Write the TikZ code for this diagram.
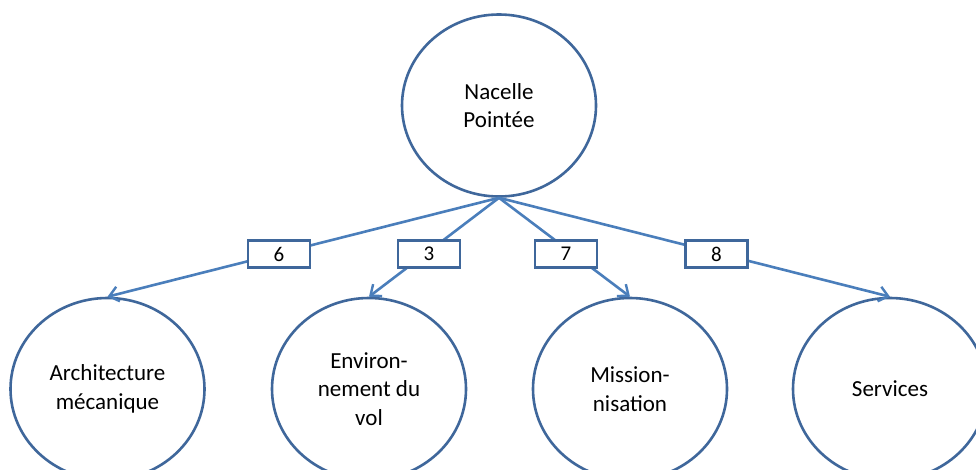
\documentclass[tikz,border=0pt]{standalone}
\usepackage{fontspec}
\setmainfont{Carlito}
\usetikzlibrary{shapes.geometric,arrows.meta}
\definecolor{rimblue}{HTML}{3F679B}
\definecolor{linkblue}{HTML}{4A7EBB}
\tikzset{
  topic/.style={ellipse, draw=rimblue, line width=2.6pt, fill=white,
    minimum width=194pt, minimum height=182pt, inner sep=0pt,
    align=center, font=\fontsize{23}{28.5}\selectfont},
  weight/.style={rectangle, draw=rimblue, line width=2.2pt, fill=white,
    minimum width=62pt, minimum height=27pt, inner sep=0pt,
    font=\fontsize{21}{24}\selectfont},
  link/.style={draw=linkblue, line width=2.6pt,
    -{Straight Barb[length=9pt,width=15pt,line width=2.4pt]}},
}
\begin{document}
\begin{tikzpicture}[x=1pt,y=-1pt]
  \useasboundingbox (0,0) rectangle (976,470);
  \clip (0,0) rectangle (976,470);
  \fill[white] (0,0) rectangle (976,470);

  % root and its four sub-themes
  \node[topic] (root) at (499,105.5) {Nacelle\\Pointée};
  \node[topic] (arch) at (107.5,389) {Architecture\\mécanique};
  \node[topic] (env)  at (369,389)   {Environ-\\nement du\\vol};
  \node[topic] (miss) at (630,389)   {Mission-\\nisation};
  \node[topic] (serv) at (890,389)   {Services};

  % weighted links
  \draw[link] (root.south) -- (arch.north);
  \draw[link] (root.south) -- (env.north);
  \draw[link] (root.south) -- (miss.north);
  \draw[link] (root.south) -- (serv.north);

  % weight labels sitting on the links
  \node[weight] (w6) at (279,254)   {6};
  \node[weight] (w3) at (429,254)   {3};
  \node[weight] (w7) at (566,254)   {7};
  \node[weight] (w8) at (716.5,254) {8};
\end{tikzpicture}
\end{document}
